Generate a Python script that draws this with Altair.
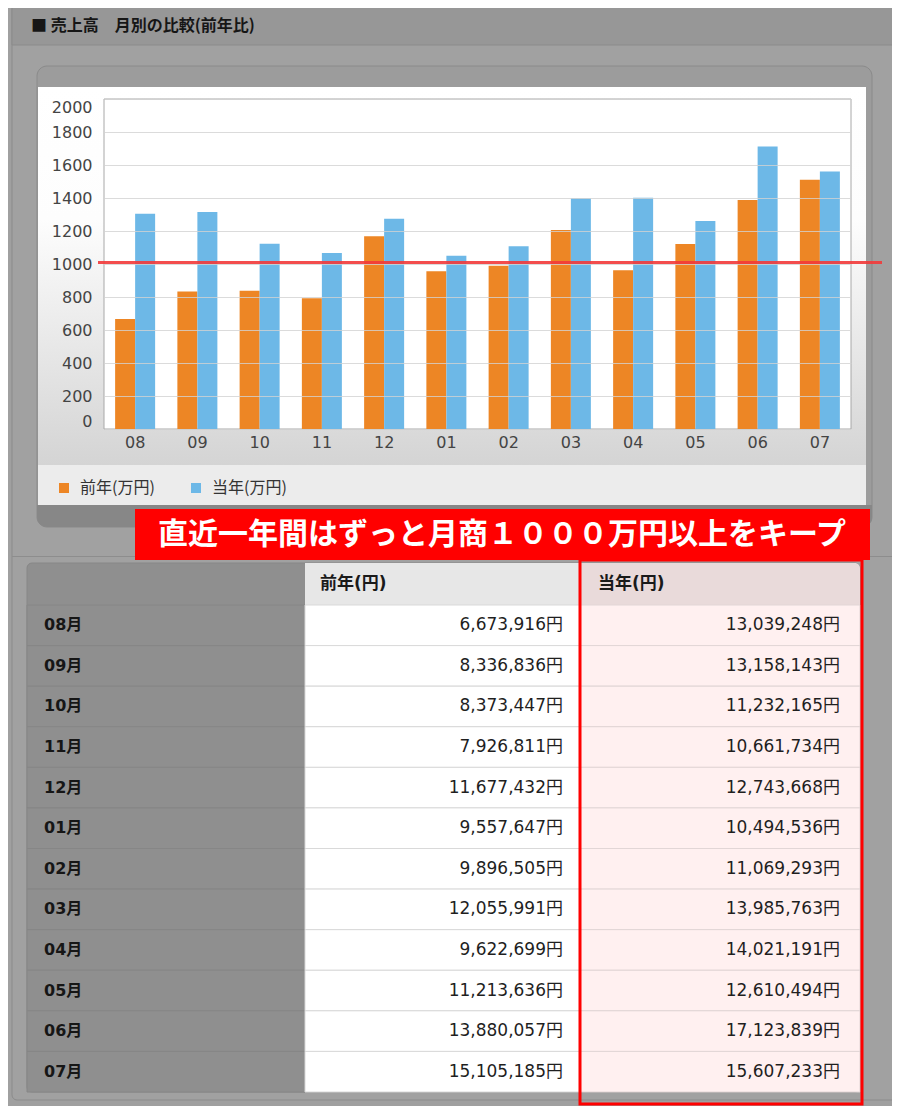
import altair as alt
import pandas as pd

# ---------------- data ----------------
months = ["08", "09", "10", "11", "12", "01", "02", "03", "04", "05", "06", "07"]
prev_yen = [6673916, 8336836, 8373447, 7926811, 11677432, 9557647,
            9896505, 12055991, 9622699, 11213636, 13880057, 15105185]
curr_yen = [13039248, 13158143, 11232165, 10661734, 12743668, 10494536,
            11069293, 13985763, 14021191, 12610494, 17123839, 15607233]
series = ["前年(万円)", "当年(万円)"]
y_ticks = [0, 200, 400, 600, 800, 1000, 1200, 1400, 1600, 1800, 2000]
threshold = [1000]
title_text = "■ 売上高　月別の比較(前年比)"
banner_text = "直近一年間はずっと月商１０００万円以上をキープ"
col_headers = ["前年(円)", "当年(円)"]
row_labels = [m + "月" for m in months]

bar_df = pd.DataFrame({
    "month": months * 2,
    "series": [series[0]] * len(months) + [series[1]] * len(months),
    "yen": prev_yen + curr_yen,
})
tbl_df = pd.DataFrame({"label": row_labels, "prev": prev_yen, "curr": curr_yen})
one = pd.DataFrame({"k": [0]})

# ---------------- layout helpers ----------------
W, H = 747, 330
OX, OY = 104, 99          # page position of the plot origin
def px(x): return x - OX
def py(y): return y - OY

JP = "Noto Sans CJK JP"
NUM = "DejaVu Sans, Noto Sans CJK JP"

def box(x1, y1, x2, y2, **mk):
    return alt.Chart(one).mark_rect(**mk).encode(
        x=alt.value(px(x1)), x2=alt.value(px(x2)),
        y=alt.value(py(y1)), y2=alt.value(py(y2)))

def txt(x, y, s, **mk):
    return alt.Chart(one).mark_text(**mk).encode(
        x=alt.value(px(x)), y=alt.value(py(y)), text=alt.value(s))

layers = []
# page panel + header
layers.append(box(12, 5, 920, 1100, fill="#a1a1a1", stroke="#8b8b8b", cornerRadius=5))
layers.append(box(12, 5, 920, 45, fill="#979797", stroke="#8b8b8b"))
layers.append(txt(31, 26, title_text, font=JP, fontSize=16, fontWeight="bold",
                  color="#161616", align="left", baseline="middle"))
layers.append(box(12, 556, 920, 557, fill="#8d8d8d"))

# chart container
layers.append(box(37, 66, 872, 527, fill="#9c9c9c", stroke="#8a8a8a", cornerRadius=10))
layers.append(box(37, 505, 872, 527, fill="#878787",
                  cornerRadiusBottomLeft=10, cornerRadiusBottomRight=10))
layers.append(box(38, 87, 866, 465, fill={
    "gradient": "linear", "x1": 0, "y1": 0, "x2": 0, "y2": 1,
    "stops": [{"offset": 0, "color": "#ffffff"},
              {"offset": 0.35, "color": "#fdfdfd"},
              {"offset": 1, "color": "#d4d4d4"}]}))
layers.append(box(38, 465, 866, 505, fill="#ececec"))
layers.append(box(OX, OY, OX + W, OY + H, fill="#ffffff", stroke="#a8a8a8", strokeWidth=1))

# bars
bars = alt.Chart(bar_df).transform_calculate(man="datum.yen / 10000").mark_bar().encode(
    x=alt.X("month:N", sort=months,
            scale=alt.Scale(domain=months, paddingInner=0, paddingOuter=0),
            axis=alt.Axis(title=None, labelAngle=0, ticks=False, domain=False,
                          labelFont="DejaVu Sans", labelFontSize=16, labelColor="#444444",
                          labelPadding=5, zindex=1)),
    xOffset=alt.XOffset("series:N", sort=series,
                        scale=alt.Scale(domain=series, paddingInner=0, paddingOuter=0.556)),
    y=alt.Y("man:Q", scale=alt.Scale(domain=[0, 2000], nice=False),
            axis=alt.Axis(title=None, values=y_ticks, format="d", ticks=False, domain=False,
                          grid=True, gridColor="#d2d2d2", gridOpacity=0.8, labelFlush=True,
                          labelFont="DejaVu Sans", labelFontSize=16, labelColor="#444444",
                          labelPadding=12, zindex=1)),
    color=alt.Color("series:N", sort=series,
                    scale=alt.Scale(domain=series, range=["#ED8625", "#6DB8E7"]),
                    legend=alt.Legend(orient="none", legendX=px(56), legendY=py(480),
                                      direction="horizontal", title=None, padding=0,
                                      symbolType="square", symbolSize=100, symbolStrokeWidth=0,
                                      labelFont=JP, labelFontSize=16, labelColor="#333333",
                                      labelOffset=8, columnPadding=33)),
)
layers.append(bars)

# threshold line
layers.append(alt.Chart(pd.DataFrame({"v": threshold})).mark_rule(
    color="#f23a3a", opacity=0.9, strokeWidth=3).encode(
    y=alt.Y("v:Q", scale=alt.Scale(domain=[0, 2000], nice=False), axis=None),
    yOffset=alt.value(-1.5),
    x=alt.value(px(98)), x2=alt.value(px(882))))

# banner
layers.append(box(135, 509, 870, 560, fill="#ff0000"))
layers.append(txt(502, 535, banner_text, font=JP, fontSize=30, fontWeight="bold",
                  color="#ffffff", align="center", baseline="middle"))

# table
layers.append(box(27, 563, 860, 1092, fill="#8f8f8f", stroke="#878787", cornerRadius=5))
layers.append(box(305, 563, 580, 605, fill="#e7e7e7"))
layers.append(box(580, 563, 860, 605, fill="#e9dada", cornerRadiusTopRight=5))

band_y = alt.Scale(domain=row_labels, range=[py(605), py(1092)], paddingInner=0, paddingOuter=0)
point_y = alt.Scale(type="point", domain=row_labels, range=[py(605), py(1092)], padding=0.5)

def row_rect(x1, x2, fill, stroke):
    return alt.Chart(tbl_df).mark_rect(fill=fill, stroke=stroke, strokeWidth=1).encode(
        x=alt.value(px(x1)), x2=alt.value(px(x2)),
        y=alt.Y("label:N", sort=row_labels, scale=band_y, axis=None))

layers.append(row_rect(27, 305, "#8f8f8f", "#868686"))
layers.append(row_rect(305, 580, "#ffffff", "#d9d9d9"))
layers.append(row_rect(580, 860, "#fff0f0", "#e2d6d6"))

layers.append(txt(320, 584, col_headers[0], font=NUM, fontSize=17, fontWeight="bold",
                  color="#1a1a1a", align="left", baseline="middle"))
layers.append(txt(598, 584, col_headers[1], font=NUM, fontSize=17, fontWeight="bold",
                  color="#1a1a1a", align="left", baseline="middle"))

layers.append(alt.Chart(tbl_df).mark_text(
    font=NUM, fontSize=16, fontWeight="bold", color="#161616", align="left",
    baseline="middle").encode(
    x=alt.value(px(44)), y=alt.Y("label:N", sort=row_labels, scale=point_y, axis=None),
    text="label:N"))
layers.append(alt.Chart(tbl_df).transform_calculate(
    t="format(datum.prev, ',') + '円'").mark_text(
    font=NUM, fontSize=17, color="#1f1f1f", align="right", baseline="middle").encode(
    x=alt.value(px(563)), y=alt.Y("label:N", sort=row_labels, scale=point_y, axis=None),
    text="t:N"))
layers.append(alt.Chart(tbl_df).transform_calculate(
    t="format(datum.curr, ',') + '円'").mark_text(
    font=NUM, fontSize=17, color="#1f1f1f", align="right", baseline="middle").encode(
    x=alt.value(px(840)), y=alt.Y("label:N", sort=row_labels, scale=point_y, axis=None),
    text="t:N"))

# highlight outline
layers.append(box(580, 560, 862, 1104, fill="#ffffff", fillOpacity=0,
                  stroke="#ff0000", strokeWidth=3))

chart = alt.layer(*layers).resolve_scale(
    x="independent", y="independent"
).properties(
    width=W, height=H,
    padding={"left": 96, "top": 91, "right": 41, "bottom": 677},
    autosize="none", background="#a0a0a0",
).configure_view(stroke=None)

chart.save("out.html", embed_options={"renderer": "svg", "actions": False})
